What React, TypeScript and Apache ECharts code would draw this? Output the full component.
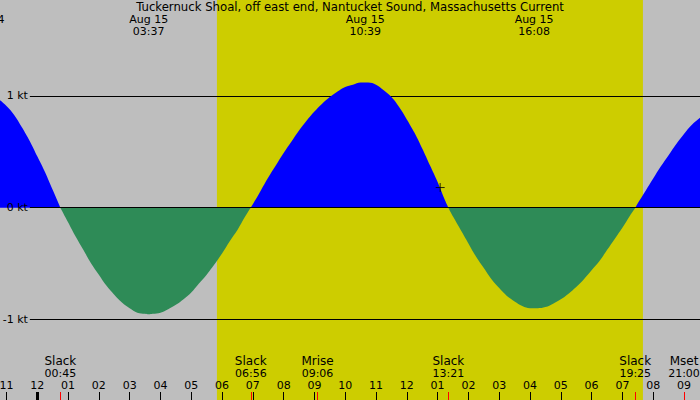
import { useEffect, useRef } from "react";
import * as echarts from "echarts";

const TITLE = "Tuckernuck Shoal, off east end, Nantucket Sound, Massachusetts Current";
const FONT = "DejaVu Sans, Verdana, sans-serif";

// hours after midnight, Aug 15 (negative values are Aug 14); one row per half tide
const curveHours = [
  -1.75, -1.5, -1.25, -1, -0.75, -0.5, -0.25, 0, 0.25, 0.5, 0.75,
  1, 1.25, 1.5, 1.75, 2, 2.25, 2.5, 2.75, 3, 3.25, 3.5, 3.62,
  3.75, 4, 4.25, 4.5, 4.75, 5, 5.25, 5.5, 5.75, 6, 6.25, 6.5, 6.75, 6.93,
  7, 7.25, 7.5, 7.75, 8, 8.25, 8.5, 8.75, 9, 9.25, 9.5, 9.75, 10, 10.25, 10.5, 10.65,
  10.75, 11, 11.25, 11.5, 11.75, 12, 12.25, 12.5, 12.75, 13, 13.25, 13.35,
  13.5, 13.75, 14, 14.25, 14.5, 14.75, 15, 15.25, 15.5, 15.75, 16, 16.13,
  16.25, 16.5, 16.75, 17, 17.25, 17.5, 17.75, 18, 18.25, 18.5, 18.75, 19, 19.25, 19.42,
  19.5, 19.75, 20, 20.25, 20.5, 20.75, 21, 21.25, 21.5, 21.75,
];
const curveKnots = [
  1.02, 1.01, 0.97, 0.91, 0.83, 0.72, 0.6, 0.46, 0.32, 0.16, 0,
  -0.13, -0.26, -0.38, -0.5, -0.6, -0.7, -0.78, -0.85, -0.9, -0.94, -0.95, -0.955,
  -0.95, -0.94, -0.91, -0.87, -0.82, -0.76, -0.68, -0.6, -0.51, -0.41, -0.3, -0.2, -0.08, 0,
  0.03, 0.15, 0.27, 0.38, 0.49, 0.59, 0.69, 0.78, 0.86, 0.93, 0.99, 1.04, 1.08, 1.1, 1.12, 1.12,
  1.12, 1.1, 1.05, 0.99, 0.9, 0.79, 0.67, 0.53, 0.38, 0.23, 0.06, 0,
  -0.08, -0.2, -0.32, -0.44, -0.54, -0.64, -0.72, -0.79, -0.84, -0.88, -0.9, -0.9,
  -0.9, -0.89, -0.86, -0.82, -0.77, -0.71, -0.64, -0.56, -0.48, -0.38, -0.28, -0.18, -0.07, 0,
  0.04, 0.15, 0.26, 0.37, 0.47, 0.57, 0.66, 0.74, 0.8, 0.86,
];

const hourTicks = [-1, 0, 1, 2, 3, 4, 5, 6, 7, 8, 9, 10, 11, 12, 13, 14, 15, 16, 17, 18, 19, 20, 21];
const hourLabels = [
  "11", "12", "01", "02", "03", "04", "05", "06", "07", "08", "09", "10", "11", "12",
  "01", "02", "03", "04", "05", "06", "07", "08", "09",
];

const extremeTimes = ["03:37", "10:39", "16:08"];
const extremeDate = "Aug 15";

const eventNames = ["Slack", "Slack", "Mrise", "Slack", "Slack", "Mset"];
const eventTimes = ["00:45", "06:56", "09:06", "13:21", "19:25", "21:00"];

const sunrise = "05:50";
const sunset = "19:40";

const knotLevels = [1, 0, -1];

const nowTime = "13:05";
const nowKnots = 0.18;

const X_MIN = -1.21;
const X_MAX = 21.52;
const Y_MIN = -1.722;
const Y_MAX = 1.859;
const LINE_START = -0.24;

const toHours = (t: string): number => {
  const [h, m] = t.split(":").map(Number);
  return h + m / 60;
};

function TideChart(): React.ReactElement {
  const ref = useRef<HTMLDivElement | null>(null);

  useEffect(() => {
    const el = ref.current;
    if (el === null) return;
    const chart = echarts.init(el, null, { renderer: "svg" });

    const flood = curveHours.map((h, i) => [h, curveKnots[i] >= 0 ? curveKnots[i] : "-"]);
    const ebb = curveHours.map((h, i) => [h, curveKnots[i] <= 0 ? curveKnots[i] : "-"]);
    const eventHours = eventTimes.map(toHours);
    const extremeHours = extremeTimes.map(toHours);

    const text = { color: "#000", fontFamily: FONT, fontSize: 11 };
    const baseX = {
      type: "value",
      min: X_MIN,
      max: X_MAX,
      position: "bottom",
      z: 10,
      axisLine: { show: false, onZero: false },
      splitLine: { show: false },
    };

    const levelLine = (v: number) => [
      { coord: [LINE_START, v], name: `${v} kt` },
      { coord: [X_MAX, v] },
    ];

    chart.setOption({
      animation: false,
      backgroundColor: "#bebebe",
      textStyle: { fontFamily: FONT },
      title: {
        text: TITLE,
        left: "center",
        top: 1,
        padding: 0,
        textStyle: { ...text, fontSize: 11.7, fontWeight: "normal" },
      },
      grid: {
        left: 0,
        right: 0,
        top: 0,
        bottom: 0,
        containLabel: false,
        outerBoundsMode: "none",
      },
      xAxis: [
        {
          ...baseX,
          axisTick: {
            show: true,
            inside: true,
            length: 8,
            customValues: hourTicks,
            lineStyle: { color: "#000", width: 1 },
          },
          axisLabel: {
            ...text,
            inside: true,
            margin: 9,
            customValues: hourTicks,
            formatter: (v: number) => hourLabels[hourTicks.indexOf(Math.round(v))] ?? "",
          },
        },
        {
          ...baseX,
          axisTick: {
            show: true,
            inside: true,
            length: 8,
            customValues: [0],
            lineStyle: { color: "#000", width: 3 },
          },
          axisLabel: { show: false },
        },
        {
          ...baseX,
          axisTick: {
            show: true,
            inside: true,
            length: 8,
            customValues: eventHours,
            lineStyle: { color: "#ff0000", width: 1 },
          },
          axisLabel: {
            ...text,
            inside: true,
            margin: 21,
            lineHeight: 12,
            customValues: eventHours,
            formatter: (v: number) => {
              const i = eventHours.findIndex((e) => Math.abs(e - v) < 1e-6);
              return i < 0 ? "" : `{n|${eventNames[i]}}\n{t|${eventTimes[i]}}`;
            },
            rich: {
              n: { ...text, fontSize: 12, lineHeight: 12 },
              t: { ...text, lineHeight: 12 },
            },
          },
        },
        {
          ...baseX,
          position: "top",
          axisTick: { show: false },
          axisLabel: {
            ...text,
            inside: true,
            margin: 13,
            lineHeight: 12,
            customValues: extremeHours,
            formatter: (v: number) => {
              const i = extremeHours.findIndex((e) => Math.abs(e - v) < 1e-6);
              return i < 0 ? "" : `${extremeDate}\n${extremeTimes[i]}`;
            },
          },
        },
      ],
      yAxis: { type: "value", min: Y_MIN, max: Y_MAX, show: false },
      graphic: [
        {
          type: "text",
          z: 20,
          style: {
            text: "Aug 14",
            x: 4.5,
            y: 19.5,
            align: "right",
            verticalAlign: "middle",
            fill: "#000",
            font: `11px ${FONT}`,
          },
        },
      ],
      series: [
        {
          name: "daylight",
          type: "line",
          data: [],
          markArea: {
            silent: true,
            z: 1,
            itemStyle: { color: "#cdcd00" },
            data: [[{ xAxis: toHours(sunrise) }, { xAxis: toHours(sunset) }]],
          },
          markLine: {
            silent: true,
            z: 2,
            symbol: ["none", "none"],
            lineStyle: { color: "#000", width: 1, type: "solid" },
            label: { ...text, position: "start", distance: 2, formatter: "{b}" },
            data: knotLevels.filter((v) => v !== 0).map(levelLine),
          },
        },
        {
          name: "flood",
          type: "line",
          z: 3,
          data: flood,
          smooth: 0.4,
          showSymbol: false,
          lineStyle: { width: 0 },
          areaStyle: { color: "#0000ff", opacity: 1 },
          markLine: {
            silent: true,
            z: 4,
            symbol: ["none", "none"],
            lineStyle: { color: "#000", width: 1, type: "solid" },
            label: { ...text, position: "start", distance: 2, formatter: "{b}" },
            data: knotLevels.filter((v) => v === 0).map(levelLine),
          },
        },
        {
          name: "ebb",
          type: "line",
          z: 3,
          data: ebb,
          smooth: 0.4,
          showSymbol: false,
          lineStyle: { width: 0 },
          areaStyle: { color: "#2e8b57", opacity: 1 },
        },
        {
          name: "now",
          type: "scatter",
          z: 5,
          data: [[toHours(nowTime), nowKnots]],
          symbol: "path://M0,4.5H9M4.5,0V9",
          symbolSize: 9,
          itemStyle: { color: "none", borderColor: "#000", borderWidth: 1 },
        },
      ],
    });

    return () => chart.dispose();
  }, []);

  return <div ref={ref} style={{ width: 700, height: 400 }} />;
}

export default function App(): React.ReactElement {
  useEffect(() => {
    document.body.style.margin = "0";
  }, []);
  return <TideChart />;
}
